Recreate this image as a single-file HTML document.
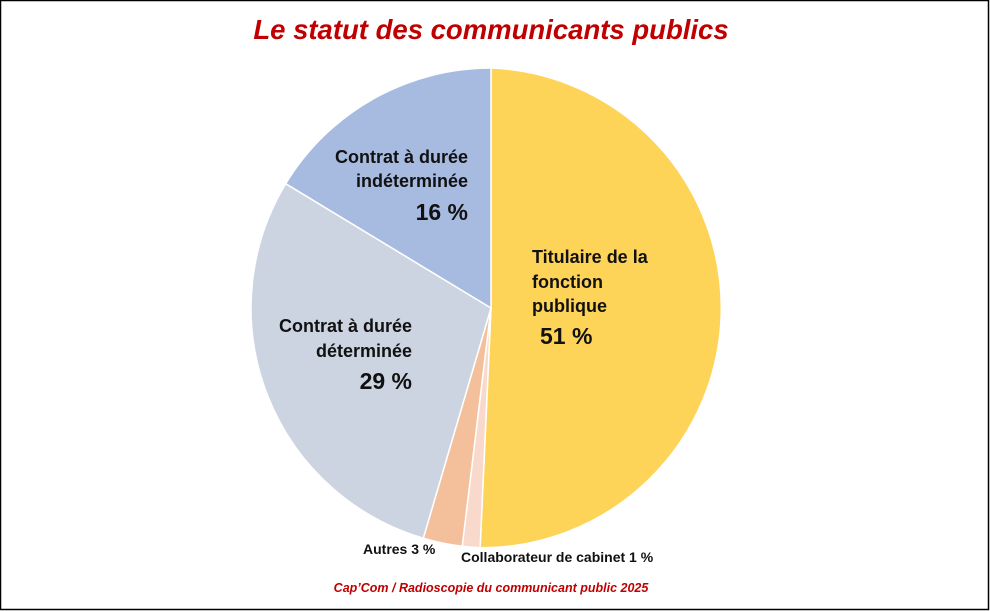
<!DOCTYPE html>
<html><head><meta charset="utf-8"><style>
html,body{margin:0;padding:0;background:#fff;}
svg{display:block;}
</style></head><body>
<svg width="990" height="611" viewBox="0 0 990 611" xmlns="http://www.w3.org/2000/svg" font-family="Liberation Sans, DejaVu Sans, sans-serif">
<rect x="0.5" y="0.5" width="988" height="609" fill="#fff" stroke="#000" stroke-width="1.5"/>
<text x="491" y="39" text-anchor="middle" font-size="27.5" font-weight="bold" font-style="italic" fill="#C00000">Le statut des communicants publics</text>
<g stroke="#fff" stroke-width="1.5">
<path d="M491,308 L491,68 A240,240 0 0 1 480.1,547.8 Z" fill="#FDD358"/>
<path d="M491,308 L480.1,547.8 A240,240 0 0 1 462.2,546.3 Z" fill="#F8D9CC"/>
<path d="M491,308 L462.2,546.3 A240,240 0 0 1 423.3,538.2 Z" fill="#F4C09C"/>
<path d="M491,308 L423.3,538.2 A240,240 0 0 1 285.7,183.7 Z" fill="#CDD4E1"/>
<path d="M491,308 L285.7,183.7 A240,240 0 0 1 491,68 Z" fill="#A7BBE0"/>
</g>
<g font-weight="bold" fill="#111" font-size="18">
<text x="532" y="263">Titulaire de la</text>
<text x="532" y="288">fonction</text>
<text x="532" y="312">publique</text>
<text x="540" y="344" font-size="23">51 %</text>
<text x="468" y="163" text-anchor="end">Contrat à durée</text>
<text x="468" y="187" text-anchor="end">indéterminée</text>
<text x="468" y="220" text-anchor="end" font-size="23">16 %</text>
<text x="412" y="332" text-anchor="end">Contrat à durée</text>
<text x="412" y="357" text-anchor="end">déterminée</text>
<text x="412" y="389" text-anchor="end" font-size="23">29 %</text>
<text x="363" y="554" font-size="14">Autres  3 %</text>
<text x="461" y="562" font-size="14">Collaborateur de cabinet  1 %</text>
</g>
<text x="491" y="592" text-anchor="middle" font-size="12.5" font-weight="bold" font-style="italic" fill="#C00000">Cap’Com / Radioscopie du communicant public 2025</text>
</svg>
</body></html>
